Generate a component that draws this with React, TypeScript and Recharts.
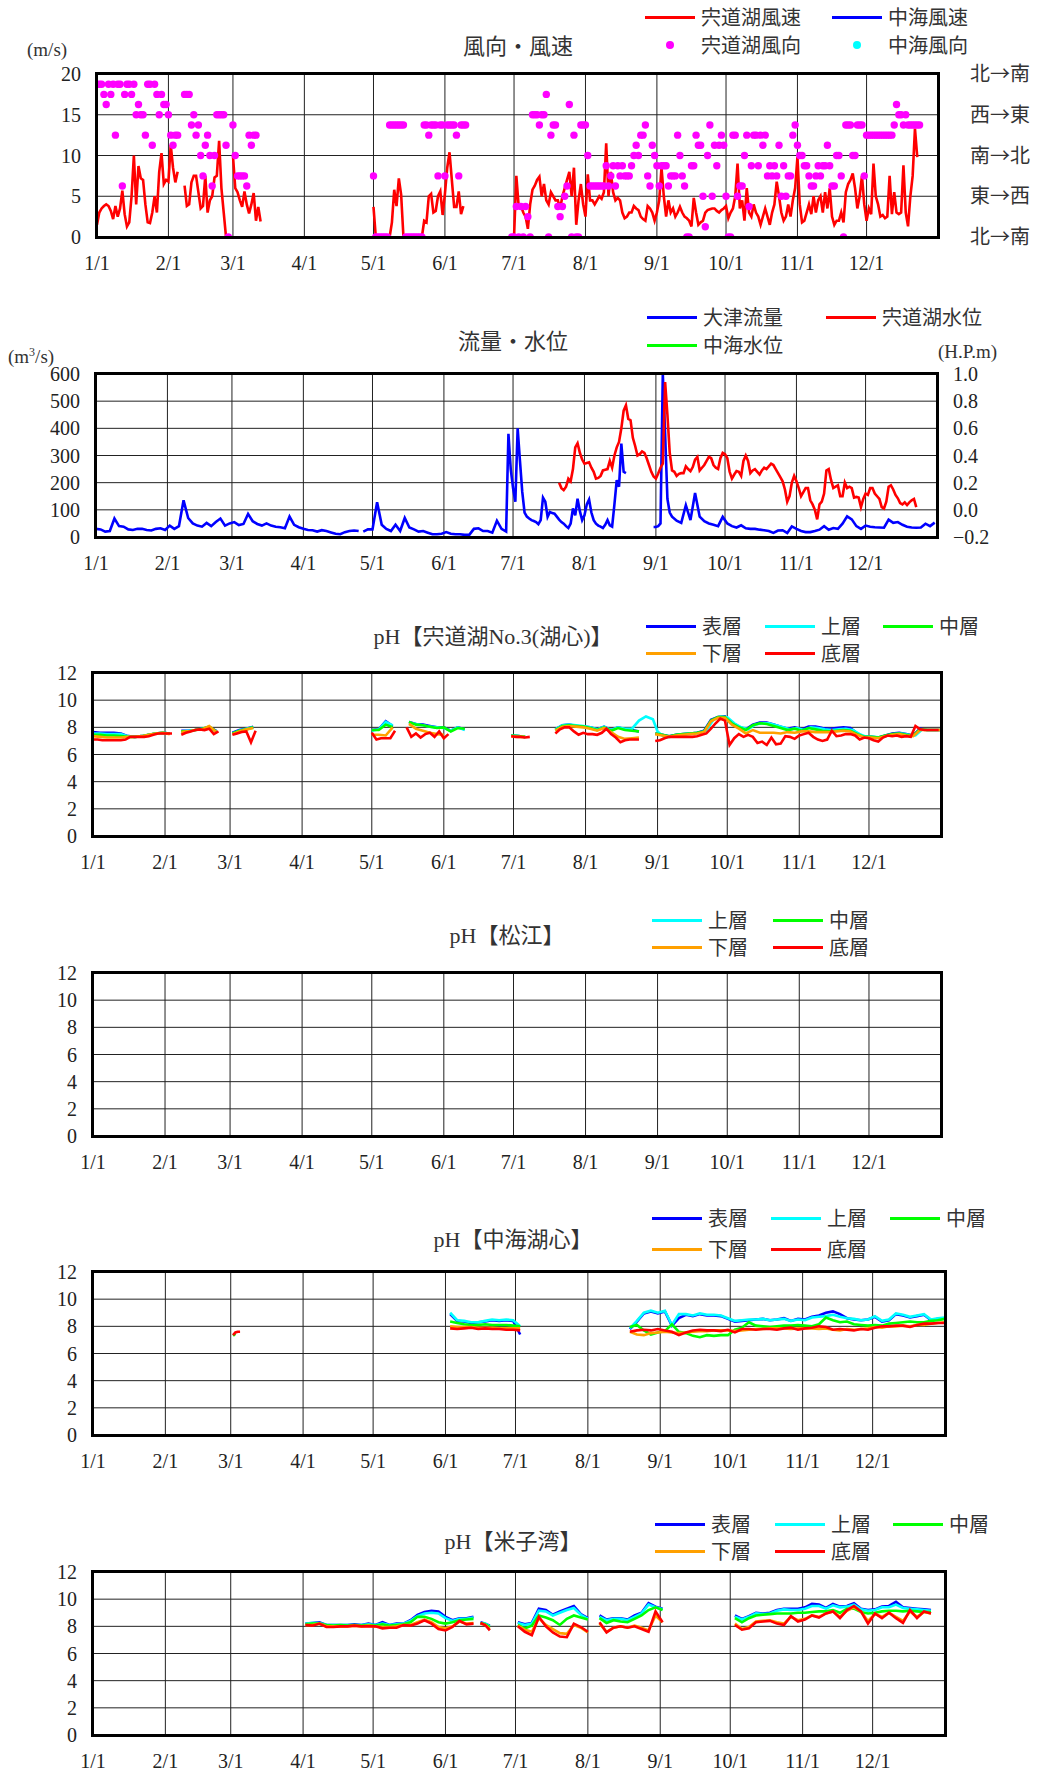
import React from 'react';
import { ComposedChart, Line, Scatter, XAxis, YAxis, CartesianGrid } from 'recharts';

// segment = [start day, step in days, values, join to previous segment]
type Seg = [number, number, number[], boolean?];
type Pt = { d: number; v: number | null };

const monthDays = [0, 31, 59, 90, 120, 151, 181, 212, 243, 273, 304, 334];
const monthLabels = ['1/1', '2/1', '3/1', '4/1', '5/1', '6/1', '7/1', '8/1', '9/1', '10/1', '11/1', '12/1'];
const dirLabels = ['北→南', '東→西', '南→北', '西→東', '北→南'];
const windTicks = [0, 5, 10, 15, 20];
const flowTicks = [0, 100, 200, 300, 400, 500, 600];
const levelTicks = [-0.2, 0, 0.2, 0.4, 0.6, 0.8, 1.0];
const phTicks = [0, 2, 4, 6, 8, 10, 12];

// ---- 風向・風速 ----
const windSpeedSegs: Seg[] = [
  [0, 1, [1.5, 3, 3.5, 3.8, 4, 3.8, 3.2, 2.2, 3.8, 2.5, 3.5, 5.7, 2.8, 1.3, 1.8, 5, 10, 4, 8.7, 7.2, 7, 4, 1.8, 1.7, 3, 5, 3, 8, 10.3, 6.5, 7, 6.8, 11.3, 8.5, 6.7, 8]],
  [38, 1, [6.3, 3.8, 4, 6.7, 7.5, 7.5, 5.5, 3.5, 3.8, 7.5, 3, 4.5, 5, 7.3, 7.5, 11.8, 6, 3, 0]],
  [59, 1, [10, 6, 5.5, 4.5, 3.7, 5.6, 4, 2.9, 4, 5.4, 2, 3.7, 1.9]],
  [120, 1, [3.7, 0, 0, 0, 0, 0, 0, 0, 1.8, 5.8, 3.8, 7.2, 5.2, 0, 0, 0, 0, 0, 0, 0, 0, 0, 2, 1.8, 5, 5.3, 3, 3.2, 5, 5.6, 2.7, 5.3, 8.5, 10.4, 7, 3.7, 3.7, 5.6, 2.8, 3.8]],
  [180, 1, [
    0, 0, 7.5, 3.8, 3.8, 3, 2.5, 1, 4, 5.8, 6.3, 7, 7.4, 5, 6.5, 4.5, 4, 5.5, 5, 4.5, 4.5, 3.5, 5, 6, 7, 8, 5, 8.5, 1.5, 4.5, 6.5, 4, 2.5,
    7.7, 4.5, 4.5, 4, 4.5, 5, 4.7, 5.5, 11.5, 5, 8, 5.5, 4.5, 4.8, 4.5, 3, 2.3, 2.5, 3, 3, 3.8, 3.5, 3.3, 2.5, 2.2, 2, 3.8, 3.5, 3, 2, 3,
    4.5, 8.5, 5, 2.5, 4.5, 3, 3.5, 2.5, 3, 3.7, 3, 2.5, 2.3, 2, 1.3, 4.8, 3, 1.5, 1.8, 2, 3, 3.3, 3.4, 3.5, 3.5, 3.2, 3, 3.3, 3.5, 3.8,
    2.3, 3, 3.5, 5, 9, 3.5, 4.5, 2, 6, 3, 2.5, 4, 3, 2.5, 1.5, 2.5, 3.5, 2.5, 1.5, 3, 4, 6.8, 5, 3, 2, 2.5, 4, 2.5, 4.5, 6, 9.8,
    4, 1.8, 2, 3, 4, 2.8, 5, 3, 4.5, 5, 3, 5.5, 3.5, 6, 2.5, 1.5, 2, 2, 3, 1.8, 5.5, 6.5, 7, 7.8, 6, 3.5, 5, 7.5, 4, 2,
    3.5, 2.8, 9, 5, 4, 2.5, 2.7, 2.3, 2.5, 7.5, 2.8, 5.5, 3, 2.8, 3, 8.8, 3, 1.3, 5, 7.5, 13.3, 9.8,
  ]],
];

const windDirSegs: Seg[] = [
  [0, 1, [18.75, 18.75, 18.75, 17.5, 16.25, 18.75, 17.5, 18.75, 12.5, 18.75, 18.75, 6.25, 17.5, 18.75, 18.75, 17.5, 18.75, 15, 16.25, 15, 15, 12.5, 18.75, 18.75, 11.25, 18.75, 17.5, 15, 17.5, 16.25, 16.25, 15, 12.5, 11.25, 12.5, 12.5]],
  [38, 1, [17.5, 17.5, 17.5, 13.75, 15, 12.5, 13.75, 10, 7.5, 11.25, 12.5, 10, 6.25, 10, 15, 15, 15, 15, 11.25, 0]],
  [59, 1, [13.75, 10, 7.5, 7.5, 7.5, 7.5, 6.25, 12.5, 11.25, 12.5, 12.5]],
  [120, 1, [7.5, 0, 0, 0, 0, 0, 0, 13.75, 13.75, 13.75, 13.75, 13.75, 13.75, 13.75, 0, 0, 0, 0, 0, 0, 0, 0, 13.75, 13.75, 12.5, 13.75, 13.75, 13.75, 7.5, 13.75, 13.75, 7.5, 13.75, 13.75, 13.75, 13.75, 12.5, 7.5, 13.75, 13.75, 13.75]],
  [180, 1, [
    0, 0, 3.75, 0, 3.75, 0, 3.75, 2.5, 0, 15,
    15, 15, 13.75, 15, 15, 17.5, 0, 12.5, 13.75, 13.75,
    3.75, 2.5, 3.75, 5, 6.25, 16.25, 0, 12.5, 0, 0,
    13.75, 13.75, 13.75, 10, 6.25, 6.25, 6.25, 6.25, 6.25, 6.25,
    6.25, 8.75, 6.25, 7.5, 8.75, 6.25, 8.75, 7.5, 8.75, 7.5,
    7.5, 7.5, 8.75, 10, 11.25, 10, 12.5, 12.5, 13.75, 7.5,
    6.25, 11.25, 10, 8.75, 6.25, 8.75, 8.75, 8.75, 6.25, 7.5,
    7.5, 7.5, 12.5, 10, 7.5, 6.25, 0, 0, 8.75, 8.75,
    12.5, 11.25, 11.25, 5, 1.25, 10, 13.75, 5, 11.25, 8.75,
    11.25, 12.5, 11.25, 5, 0, 0, 12.5, 12.5, 5, 6.25,
    6.25, 10, 12.5, 3.75, 8.75, 12.5, 12.5, 8.75, 12.5, 11.25,
    12.5, 7.5, 8.75, 7.5, 8.75, 7.5, 11.25, 5, 8.75, 5,
    7.5, 7.5, 12.5, 13.75, 11.25, 10, 10, 8.75, 8.75, 7.5,
    6.25, 6.25, 7.5, 8.75, 7.5, 8.75, 8.75, 11.25, 8.75, 6.25,
    6.25, 10, 10, 7.5, 0, 13.75, 13.75, 13.75, 10, 10,
    13.75, 13.75, 13.75, 7.5, 12.5, 12.5, 12.5, 12.5, 12.5, 12.5,
    12.5, 12.5, 12.5, 12.5, 12.5, 12.5, 13.75, 16.25, 15, 15,
    13.75, 15, 13.75, 13.75, 13.75, 13.75, 13.75, 13.75,
  ]],
];

// ---- 流量・水位 ----
const flowSegs: Seg[] = [
  [0, 2, [30, 28, 20, 22, 68, 40, 38, 28, 26, 30, 30, 26, 24, 30, 32, 26, 42, 30, 40, 135, 70, 50, 42, 38, 52, 40, 55, 68, 42, 50, 55, 44, 48, 85, 58, 48, 42, 50, 42, 38, 36, 32, 75, 45, 36, 30, 26, 25, 20, 25, 22, 17, 12, 10, 18, 22, 24, 22]],
  [116, 2, [20, 28, 28, 128, 45, 30, 22, 45, 22, 70, 35, 28, 20, 22, 16, 10, 10, 12, 18, 12, 10, 10, 8, 8, 30, 32, 22, 22, 16, 60, 30]],
  [178, 1, [20, 380, 250, 180, 130, 400, 280, 166, 90, 75, 68, 62, 59, 55, 47, 62, 145, 130, 74, 92, 88, 86, 75, 64, 55, 49, 40, 33, 49, 105, 80, 141, 95, 62, 80, 120, 138, 90, 62, 49, 42, 38, 33, 45, 62, 43, 38, 120, 209, 185, 344, 240, 235], true],
  [242, 1, [37, 37, 40, 50, 600, 380, 140, 90, 75]],
  [252, 2, [60, 52, 117, 62, 162, 75, 58, 50, 45, 40, 74, 50, 40, 35, 43, 32, 30, 30, 27, 25, 22, 15, 24, 25, 15, 39, 30, 22, 18, 18, 22, 27, 40, 27, 33, 30, 49, 76, 65, 40, 30, 42, 38, 36, 35, 34, 64, 52, 55, 45, 38, 35, 34, 35, 49, 40, 53], true],
];

const shinjiLevelSegs: Seg[] = [
  [201, 1, [
    0.2, 0.16, 0.145, 0.17, 0.23, 0.21, 0.3, 0.46, 0.49, 0.42,
    0.37, 0.34, 0.345, 0.35, 0.31, 0.28, 0.23, 0.235, 0.25, 0.29,
    0.295, 0.3, 0.36, 0.31, 0.4, 0.46, 0.5, 0.6, 0.73, 0.77,
    0.67, 0.66, 0.53, 0.47, 0.4, 0.41, 0.43, 0.42, 0.38, 0.33,
    0.28, 0.245, 0.23, 0.267, 0.31, 0.34, 0.94, 0.7, 0.42, 0.29,
    0.28, 0.25, 0.265, 0.27, 0.27, 0.32, 0.3, 0.285, 0.315, 0.37,
    0.39, 0.29, 0.31, 0.33, 0.36, 0.39, 0.38, 0.33, 0.31, 0.3,
    0.38, 0.42, 0.41, 0.38, 0.28, 0.23, 0.26, 0.285, 0.28, 0.25,
    0.36, 0.4, 0.36, 0.27, 0.29, 0.3, 0.28, 0.26, 0.29, 0.31,
    0.3, 0.32, 0.34, 0.33, 0.3, 0.27, 0.24, 0.21, 0.15, 0.06,
    0.1, 0.2, 0.25, 0.21, 0.16, 0.1, 0.13, 0.16, 0.16, 0.07,
    0.04, 0.0, -0.07, 0.04, 0.06, 0.12, 0.29, 0.3, 0.22, 0.16,
    0.17, 0.18, 0.1, 0.1, 0.2, 0.16, 0.17, 0.16, 0.09, 0.095,
    0.09, 0.02, 0.08, 0.12, 0.11, 0.16, 0.16, 0.12, 0.1, 0.08,
    0.02, 0.01, 0.06, 0.17, 0.18, 0.15, 0.11, 0.085, 0.05, 0.04,
    0.055, 0.035, 0.055, 0.07, 0.08, 0.02,
  ]],
];

// ---- pH 宍道湖No.3 ----
const p3Blue: Seg[] = [
  [0, 3, [7.65, 7.6, 7.6, 7.6, 7.55, 7.35, 7.3, 7.35, 7.45, 7.55, 7.6, 7.55]],
  [38, 3, [7.75, 7.75, 7.8, 7.9, 8.0, 7.75]],
  [60, 3, [7.6, 7.8, 7.9, 8.05]],
  [120, 3, [7.8, 7.85, 8.45, 8.1]],
  [136, 3, [8.4, 8.25, 8.2, 8.1, 8.0, 8.0, 7.75, 8.0, 7.85]],
  [180, 3, [7.4, 7.35, 7.3]],
  [199, 3, [7.85, 8.15, 8.2, 8.1, 8.05, 8.0, 7.85, 8.05, 7.8, 8.0, 7.85, 7.8, 7.7]],
  [242, 3, [7.55, 7.45, 7.35, 7.45, 7.5, 7.55, 7.6, 7.75, 8.55, 8.75, 8.8, 8.35, 8.05, 7.85, 8.2, 8.35, 8.35, 8.2, 8.05, 7.9, 8.0, 7.85, 8.05, 8.05, 7.95, 7.9, 7.95, 8.0, 7.95, 7.55, 7.3, 7.3, 7.25, 7.4, 7.55, 7.6, 7.5, 7.4, 7.9, 7.8, 7.8, 7.8]],
];
const p3Cyan: Seg[] = [
  [0, 3, [7.55, 7.55, 7.5, 7.5, 7.5, 7.35, 7.3, 7.35, 7.45, 7.55, 7.6, 7.55]],
  [38, 3, [7.7, 7.75, 7.8, 7.9, 8.0, 7.7]],
  [60, 3, [7.55, 7.75, 7.9, 8.0]],
  [120, 3, [7.75, 7.85, 8.4, 8.15]],
  [136, 3, [8.35, 8.25, 8.15, 8.05, 8.0, 7.95, 7.75, 8.0, 7.8]],
  [180, 3, [7.4, 7.35, 7.3]],
  [199, 3, [7.85, 8.15, 8.2, 8.15, 8.1, 8.0, 7.85, 8.05, 7.8, 8.0, 7.9, 7.9, 8.5, 8.8, 8.6]],
  [243, 3, [7.7, 7.25, 7.3, 7.45, 7.5, 7.55, 7.6, 7.75, 8.55, 8.8, 8.75, 8.3, 8.0, 7.85, 8.2, 8.3, 8.3, 8.15, 8.0, 7.85, 7.95, 7.8, 8.0, 7.95, 7.85, 7.8, 7.85, 7.9, 7.8, 7.5, 7.3, 7.3, 7.25, 7.4, 7.5, 7.55, 7.45, 7.4, 7.85, 7.8, 7.8], true],
];
const p3Green: Seg[] = [
  [0, 3, [7.45, 7.45, 7.4, 7.4, 7.35, 7.3, 7.3, 7.35, 7.45, 7.55, 7.6, 7.55]],
  [38, 3, [7.7, 7.7, 7.8, 7.9, 8.05, 7.7]],
  [60, 3, [7.55, 7.75, 7.85, 8.0]],
  [120, 3, [7.8, 7.8, 8.2, 8.0]],
  [136, 3, [8.4, 8.2, 8.15, 8.05, 7.95, 8.0, 7.7, 7.95, 7.9]],
  [180, 3, [7.4, 7.35, 7.3]],
  [199, 3, [7.8, 8.1, 8.15, 8.1, 8.05, 7.95, 7.8, 8.0, 7.75, 7.95, 7.8, 7.75, 7.7]],
  [242, 3, [7.55, 7.45, 7.35, 7.45, 7.5, 7.55, 7.6, 7.7, 8.5, 8.75, 8.75, 8.3, 8.0, 7.8, 8.15, 8.3, 8.25, 8.1, 7.95, 7.8, 7.9, 7.75, 7.95, 7.85, 7.75, 7.7, 7.75, 7.8, 7.75, 7.5, 7.3, 7.3, 7.25, 7.4, 7.5, 7.55, 7.45, 7.4, 7.85, 7.8, 7.8, 7.8]],
];
const p3Orange: Seg[] = [
  [0, 3, [7.35, 7.3, 7.25, 7.25, 7.25, 7.3, 7.3, 7.35, 7.45, 7.55, 7.6, 7.5]],
  [38, 3, [7.65, 7.7, 7.8, 7.85, 8.1, 7.65]],
  [60, 3, [7.5, 7.7, 7.85, 7.95]],
  [120, 3, [7.45, 7.45, 7.4, 8.0]],
  [136, 3, [8.25, 7.9, 7.75, 7.6, 7.5, 7.45]],
  [180, 3, [7.35, 7.3, 7.3]],
  [199, 3, [7.75, 8.05, 8.1, 8.05, 8.0, 7.9, 7.75, 7.95, 7.65, 7.3, 7.15, 7.2, 7.25]],
  [242, 3, [7.5, 7.4, 7.3, 7.4, 7.45, 7.5, 7.55, 7.65, 8.45, 8.7, 8.7, 8.2, 7.9, 7.55, 7.8, 7.6, 7.6, 7.6, 7.55, 7.65, 7.6, 7.7, 7.7, 7.65, 7.65, 7.65, 7.7, 7.75, 7.7, 7.45, 7.25, 7.25, 7.2, 7.35, 7.45, 7.5, 7.4, 7.35, 7.8, 7.8, 7.8, 7.8]],
];
const p3Red: Seg[] = [
  [0, 2, [7.1, 7.1, 7.05, 7.05, 7.05, 7.05, 7.05, 7.1, 7.3, 7.3, 7.3, 7.3, 7.35, 7.45, 7.55, 7.55, 7.55, 7.55]],
  [38, 2, [7.45, 7.6, 7.7, 7.8, 7.85, 7.8, 7.9, 7.5, 7.7]],
  [60, 2, [7.45, 7.55, 7.65, 7.7, 6.9, 7.75]],
  [120, 2, [7.6, 7.1, 7.2, 7.2, 7.2, 7.75]],
  [135, 2, [8.0, 7.3, 7.55, 7.25, 7.5, 7.6, 7.3, 7.7, 7.2, 7.5]],
  [180, 2, [7.35, 7.3, 7.3, 7.25, 7.3]],
  [199, 2, [7.55, 7.85, 8.0, 8.0, 7.7, 7.45, 7.6, 7.5, 7.5, 7.45, 7.6, 7.9, 7.5, 7.25, 6.9, 7.05, 7.1, 7.1, 7.1]],
  [242, 2, [
    7.0, 7.05, 7.2, 7.3, 7.3, 7.3, 7.3, 7.3, 7.3, 7.35,
    7.45, 7.55, 7.9, 8.3, 8.65, 8.5, 6.7, 7.2, 7.5, 7.3,
    7.45, 7.3, 6.85, 6.95, 6.7, 7.25, 6.75, 6.8, 7.35, 7.3,
    7.15, 7.4, 7.5, 7.6, 7.3, 7.1, 7.0, 7.1, 7.75, 7.35,
    7.4, 7.5, 7.5, 7.4, 7.1, 7.25, 7.2, 7.05, 6.95, 7.25,
    7.4, 7.35, 7.4, 7.3, 7.35, 7.3, 8.1, 7.85, 7.8, 7.8,
    7.8, 7.8,
  ]],
];

// ---- pH 中海湖心 ----
const p5Blue: Seg[] = [
  [153, 3, [8.9, 8.4, 8.35, 8.25, 8.3, 8.35, 8.45, 8.4, 8.45, 8.4, 7.4]],
  [230, 3, [7.8, 8.35, 8.95, 9.1, 8.95, 9.1, 8.05, 8.6, 8.85, 8.75, 8.9, 8.8, 8.8, 8.75, 8.55, 8.35, 8.4, 8.45, 8.5, 8.55, 8.45, 8.5, 8.6, 8.4, 8.55, 8.5, 8.7, 8.8, 9.0, 9.1, 8.9, 8.6, 8.5, 8.45, 8.5, 8.7, 8.35, 8.45, 8.9, 8.8, 8.65, 8.75, 8.85, 8.45, 8.55, 8.6]],
];
const p5Cyan: Seg[] = [
  [153, 3, [9.0, 8.45, 8.4, 8.3, 8.3, 8.4, 8.5, 8.45, 8.5, 8.45, 8.0]],
  [230, 3, [7.85, 8.4, 9.0, 9.15, 9.0, 9.15, 8.1, 8.9, 8.9, 8.8, 8.95, 8.85, 8.85, 8.8, 8.6, 8.4, 8.45, 8.5, 8.5, 8.55, 8.45, 8.5, 8.55, 8.4, 8.5, 8.45, 8.65, 8.7, 8.75, 8.85, 8.7, 8.6, 8.55, 8.45, 8.5, 8.75, 8.4, 8.5, 8.95, 8.85, 8.7, 8.8, 8.9, 8.5, 8.6, 8.65]],
];
const p5Green: Seg[] = [
  [60, 1, [7.3, 7.45]],
  [153, 3, [8.35, 8.25, 8.15, 8.1, 8.1, 8.15, 8.1, 8.1, 8.1, 8.05, 8.0]],
  [230, 3, [7.95, 8.1, 7.7, 7.4, 7.55, 7.65, 8.15, 7.6, 7.5, 7.3, 7.2, 7.35, 7.3, 7.35, 7.35, 7.75, 7.9, 8.3, 8.05, 8.0, 7.95, 8.0, 8.05, 8.05, 8.1, 8.05, 8.0, 8.15, 8.65, 8.45, 8.3, 8.35, 8.15, 8.1, 8.05, 8.1, 8.05, 8.2, 8.25, 8.3, 8.35, 8.3, 8.3, 8.4, 8.45, 8.55]],
];
const p5Orange: Seg[] = [
  [153, 3, [8.0, 7.95, 7.95, 7.95, 7.9, 7.9, 7.9, 7.85, 7.85, 7.85, 7.85]],
  [230, 3, [7.6, 7.4, 7.35, 7.5, 7.55, 7.6, 7.55, 7.5, 7.55, 7.6, 7.65, 7.65, 7.7, 7.7, 7.7, 7.65, 7.7, 7.75, 7.8, 7.8, 7.85, 7.85, 7.85, 7.8, 7.85, 7.85, 7.85, 7.8, 7.85, 7.75, 7.7, 7.8, 7.75, 7.8, 7.85, 7.95, 7.9, 8.0, 8.0, 8.05, 8.0, 8.1, 8.1, 8.2, 8.25, 8.3]],
];
const p5Red: Seg[] = [
  [60, 1, [7.35, 7.55, 7.6, 7.6]],
  [153, 3, [7.85, 7.8, 7.85, 7.9, 7.8, 7.85, 7.8, 7.8, 7.75, 7.75, 7.7]],
  [230, 3, [7.6, 7.7, 7.75, 7.7, 7.8, 7.7, 7.6, 7.35, 7.55, 7.7, 7.75, 7.7, 7.7, 7.65, 7.75, 7.55, 7.8, 7.8, 7.75, 7.8, 7.8, 7.75, 7.85, 7.9, 7.75, 7.85, 7.9, 8.0, 7.95, 7.75, 7.8, 7.75, 7.7, 7.8, 7.75, 7.9, 8.0, 8.0, 8.05, 8.05, 7.95, 8.1, 8.2, 8.2, 8.25, 8.25]],
];

// ---- pH 米子湾 ----
const p6Blue: Seg[] = [
  [91, 3, [8.2, 8.25, 8.3, 8.1, 8.1, 8.1, 8.1, 8.15, 8.1, 8.2, 8.1, 8.3, 8.1, 8.2, 8.2, 8.45, 8.85, 9.05, 9.15, 9.1, 8.7, 8.45, 8.6, 8.6, 8.7]],
  [166, 2, [8.3, 8.2, 8.05]],
  [182, 3, [8.3, 8.15, 8.25, 9.3, 9.2, 8.85, 9.1, 9.3, 9.5, 8.9, 8.6]],
  [217, 3, [8.8, 8.5, 8.6, 8.6, 8.5, 8.8, 9.0, 9.7, 9.45, 9.3]],
  [275, 3, [8.8, 8.55, 8.75, 9.0, 8.95, 9.0, 9.2, 9.3, 9.3, 9.3, 9.4, 9.65, 9.6, 9.35, 9.65, 9.45, 9.5, 9.7, 9.3, 9.2, 9.25, 9.45, 9.5, 9.8, 9.4, 9.35, 9.3, 9.25, 9.2]],
];
const p6Cyan: Seg[] = [
  [91, 3, [8.2, 8.25, 8.25, 8.1, 8.1, 8.1, 8.1, 8.1, 8.1, 8.15, 8.1, 8.2, 8.1, 8.15, 8.2, 8.4, 8.75, 8.95, 9.0, 8.95, 8.6, 8.4, 8.55, 8.55, 8.65]],
  [166, 2, [8.25, 8.2, 8.0]],
  [182, 3, [8.25, 8.1, 8.2, 9.15, 9.1, 8.8, 9.0, 9.2, 9.35, 8.85, 8.55]],
  [217, 3, [8.7, 8.45, 8.55, 8.55, 8.45, 8.7, 8.95, 9.6, 9.4, 9.25]],
  [275, 3, [8.7, 8.5, 8.7, 8.95, 8.9, 8.95, 9.15, 9.25, 9.2, 9.2, 9.3, 9.5, 9.5, 9.3, 9.55, 9.4, 9.45, 9.6, 9.25, 9.15, 9.2, 9.4, 9.4, 9.6, 9.35, 9.3, 9.25, 9.2, 9.15]],
];
const p6Green: Seg[] = [
  [91, 3, [8.15, 8.2, 8.2, 8.1, 8.05, 8.1, 8.05, 8.1, 8.05, 8.1, 8.05, 8.15, 8.05, 8.1, 8.15, 8.3, 8.7, 8.7, 8.55, 8.3, 8.2, 8.3, 8.45, 8.5, 8.55]],
  [166, 2, [8.25, 8.15, 7.95]],
  [182, 3, [8.1, 7.85, 8.05, 8.8, 8.65, 8.45, 8.1, 8.55, 8.8, 8.65, 8.5]],
  [217, 3, [8.6, 8.25, 8.45, 8.35, 8.3, 8.55, 8.8, 9.2, 9.4, 9.2]],
  [275, 3, [8.6, 8.3, 8.6, 8.8, 8.85, 8.9, 8.95, 8.95, 8.95, 9.0, 9.0, 9.05, 9.1, 9.1, 9.2, 9.0, 9.3, 9.3, 9.05, 8.95, 9.0, 9.1, 9.15, 9.15, 9.1, 9.15, 9.1, 9.05, 9.05]],
];
const p6Orange: Seg[] = [
  [91, 3, [8.1, 8.1, 8.2, 8.0, 8.0, 8.0, 8.0, 8.05, 8.0, 8.05, 8.0, 7.95, 7.95, 8.0, 8.1, 8.1, 8.3, 8.5, 8.3, 7.95, 7.85, 8.0, 8.35, 8.2, 8.25]],
  [166, 2, [8.2, 8.1, 7.8]],
  [182, 3, [8.05, 7.75, 7.6, 8.6, 8.1, 7.8, 7.5, 7.45, 8.1, 7.9, 7.55]],
  [217, 3, [8.2, 7.6, 7.9, 8.0, 7.9, 8.05, 7.9, 7.7, 8.8, 8.3]],
  [275, 3, [8.2, 7.8, 7.95, 8.35, 8.4, 8.45, 8.3, 8.2, 8.7, 8.45, 8.55, 8.8, 8.7, 8.95, 9.1, 8.7, 9.15, 9.4, 9.1, 8.4, 8.9, 8.7, 9.0, 8.7, 8.4, 9.1, 8.7, 9.05, 8.95]],
];
const p6Red: Seg[] = [
  [91, 3, [8.1, 8.05, 8.2, 7.95, 7.95, 8.0, 8.0, 8.05, 8.0, 8.0, 8.0, 7.85, 7.9, 7.9, 8.1, 8.05, 8.2, 8.45, 8.2, 7.8, 7.7, 7.95, 8.4, 8.15, 8.2]],
  [166, 2, [8.25, 8.1, 7.7]],
  [182, 3, [8.0, 7.6, 7.35, 8.7, 8.0, 7.55, 7.25, 7.2, 8.2, 7.95, 7.6]],
  [217, 3, [8.3, 7.55, 7.9, 8.0, 7.9, 8.0, 7.8, 7.6, 9.1, 8.3]],
  [275, 3, [8.1, 7.75, 7.85, 8.3, 8.35, 8.4, 8.2, 8.1, 8.75, 8.35, 8.5, 8.8, 8.65, 8.95, 9.1, 8.6, 9.2, 9.5, 9.1, 8.2, 8.95, 8.6, 9.0, 8.6, 8.25, 9.2, 8.6, 9.1, 8.95]],
];

function build(segs: Seg[]): Pt[] {
  const out: Pt[] = [];
  segs.forEach(([start, step, vals, join], i) => {
    if (i > 0 && !join) out.push({ d: start - 0.5, v: null });
    vals.forEach((v, j) => out.push({ d: start + j * step, v }));
  });
  return out;
}

const C = { blue: '#0000ff', cyan: '#00ffff', green: '#00ff00', orange: '#ffa000', red: '#ff0000', mag: '#ff00ff' };
const CJK = "'Noto Sans CJK JP', sans-serif";
const SERIF = "'Liberation Serif', 'Noto Sans CJK JP', serif";
const H = 163;
const TOPM = 20;
const tickFont = { fontFamily: SERIF, fontSize: 20, fill: '#222' };

const ln = (segs: Seg[], color: string, key: string, yAxisId: string | number = 0) => (
  <Line key={key} data={build(segs)} dataKey="v" yAxisId={yAxisId} type="linear" stroke={color} strokeWidth={2.6}
    dot={false} activeDot={false} connectNulls={false} isAnimationActive={false} />
);
const empty: Pt[] = [{ d: 0, v: null }, { d: 365, v: null }];

// direction labels on the right of the wind chart, in the CJK font
const DirTick = (props: any) => (
  <text x={props.x} y={props.y} dy="0.35em" textAnchor="start" fill="#333" style={{ fontFamily: CJK, fontSize: 20 }}>
    {dirLabels[Math.round(props.payload.value / 5)]}
  </text>
);

interface RightAxis { domain: [number, number]; ticks: number[]; fmt?: (v: number) => string; margin: number; tick: any }

function Panel(p: { top: number; left: number; right: number; yDomain: [number, number]; yTicks: number[]; rightAxis?: RightAxis; children?: React.ReactNode }) {
  const marginRight = p.rightAxis ? 0 : 1040 - p.right;
  return (
    <div style={{ position: 'absolute', left: 0, top: p.top - TOPM }}>
      <ComposedChart width={1040} height={TOPM + H + 45} margin={{ top: TOPM, left: 0, right: marginRight, bottom: 0 }}>
        <CartesianGrid stroke="#222" strokeWidth={1} />
        <XAxis type="number" dataKey="d" domain={[0, 365]} ticks={monthDays} interval={0} allowDataOverflow
          tickFormatter={(v: number) => monthLabels[monthDays.indexOf(v)]} height={45} axisLine={false}
          tickLine={false} tickSize={0} tickMargin={19} tick={tickFont} />
        <YAxis type="number" domain={p.yDomain} ticks={p.yTicks} interval={0} allowDataOverflow width={p.left}
          axisLine={false} tickLine={false} tickSize={0} tickMargin={16} tick={tickFont} />
        {p.rightAxis && (
          <YAxis yAxisId="r" orientation="right" type="number" domain={p.rightAxis.domain} ticks={p.rightAxis.ticks}
            interval={0} allowDataOverflow width={1040 - p.right} axisLine={false} tickLine={false} tickSize={0}
            tickMargin={p.rightAxis.margin} tick={p.rightAxis.tick} tickFormatter={p.rightAxis.fmt} />
        )}
        {p.children}
      </ComposedChart>
      <div style={{ position: 'absolute', left: p.left - 2, top: TOPM - 2, width: p.right - p.left + 4, height: H + 4, border: '3px solid #000', boxSizing: 'border-box', pointerEvents: 'none' }} />
    </div>
  );
}

type LegItem = { label: string; color: string; x: number; y: number; dot?: boolean };
function Legend({ items }: { items: LegItem[] }) {
  return (
    <>
      {items.map((it, i) => (
        <React.Fragment key={i}>
          {it.dot
            ? <div style={{ position: 'absolute', left: it.x + 21, top: it.y - 4, width: 8, height: 8, borderRadius: 4, background: it.color }} />
            : <div style={{ position: 'absolute', left: it.x, top: it.y - 1.5, width: 50, height: 3, background: it.color }} />}
          <div style={{ position: 'absolute', left: it.x + 56, top: it.y - 11, fontFamily: CJK, fontSize: 20, lineHeight: '22px', color: '#333', whiteSpace: 'nowrap' }}>{it.label}</div>
        </React.Fragment>
      ))}
    </>
  );
}

function Title({ x, y, text }: { x: number; y: number; text: string }) {
  return <div style={{ position: 'absolute', left: x - 250, width: 500, top: y - 13, lineHeight: '26px', textAlign: 'center', fontFamily: SERIF, fontSize: 22, color: '#333', whiteSpace: 'nowrap' }}>{text}</div>;
}

function Note({ x, y, children }: { x: number; y: number; children: React.ReactNode }) {
  return <div style={{ position: 'absolute', left: x, top: y - 12, lineHeight: '24px', fontFamily: SERIF, fontSize: 19, color: '#333', whiteSpace: 'nowrap' }}>{children}</div>;
}

const layerLegend = (y1: number, y2: number, x0: number, x1: number, x2: number): LegItem[] => [
  { label: '表層', color: C.blue, x: x0, y: y1 },
  { label: '上層', color: C.cyan, x: x1, y: y1 },
  { label: '中層', color: C.green, x: x2, y: y1 },
  { label: '下層', color: C.orange, x: x0, y: y2 },
  { label: '底層', color: C.red, x: x1, y: y2 },
];

const dirPts = build(windDirSegs).filter((pt) => pt.v !== null);
const dotShape = (props: any) => <circle cx={props.cx} cy={props.cy} r={3.7} fill={C.mag} />;

const css = `.recharts-cartesian-axis-tick-value { font-family: 'Liberation Serif', 'Noto Sans CJK JP', serif; }`;

export default function App() {
  return (
    <div style={{ position: 'absolute', left: 0, top: 0, width: 1040, height: 1776, background: '#fff', overflow: 'hidden' }}>
      <style>{css}</style>
      {/* 風向・風速 */}
      <Title x={518} y={47} text="風向・風速" />
      <Note x={27} y={50}>(m/s)</Note>
      <Legend items={[
        { label: '宍道湖風速', color: C.red, x: 645, y: 17 },
        { label: '中海風速', color: C.blue, x: 832, y: 17 },
        { label: '宍道湖風向', color: C.mag, x: 645, y: 45, dot: true },
        { label: '中海風向', color: C.cyan, x: 832, y: 45, dot: true },
      ]} />
      <Panel top={74} left={97} right={938} yDomain={[0, 20]} yTicks={windTicks}
        rightAxis={{ domain: [0, 20], ticks: windTicks, margin: 32, tick: DirTick }}>
        {ln(windSpeedSegs, C.red, 'ws')}
        <Scatter key="wd" yAxisId="r" data={dirPts} dataKey="v" shape={dotShape} isAnimationActive={false} />
      </Panel>

      {/* 流量・水位 */}
      <Title x={513} y={342} text="流量・水位" />
      <Note x={8} y={352}>(m<sup style={{ fontSize: 12 }}>3</sup>/s)</Note>
      <Note x={938} y={352}>(H.P.m)</Note>
      <Legend items={[
        { label: '大津流量', color: C.blue, x: 647, y: 317 },
        { label: '宍道湖水位', color: C.red, x: 826, y: 317 },
        { label: '中海水位', color: C.green, x: 647, y: 345 },
      ]} />
      <Panel top={374} left={96} right={937} yDomain={[0, 600]} yTicks={flowTicks}
        rightAxis={{ domain: [-0.2, 1.0], ticks: levelTicks, fmt: (v) => v.toFixed(1).replace('-', '−'), margin: 16, tick: tickFont }}>
        {ln(flowSegs, C.blue, 'flow')}
        {ln(shinjiLevelSegs, C.red, 'lvl', 'r')}
      </Panel>

      {/* pH 宍道湖No.3 */}
      <Title x={493} y={637} text="pH【宍道湖No.3(湖心)】" />
      <Legend items={layerLegend(626, 653, 646, 765, 883)} />
      <Panel top={673} left={93} right={941} yDomain={[0, 12]} yTicks={phTicks}>
        {ln(p3Blue, C.blue, 'b')}
        {ln(p3Cyan, C.cyan, 'c')}
        {ln(p3Green, C.green, 'g')}
        {ln(p3Orange, C.orange, 'o')}
        {ln(p3Red, C.red, 'r')}
      </Panel>

      {/* pH 松江 */}
      <Title x={507} y={936} text="pH【松江】" />
      <Legend items={[
        { label: '上層', color: C.cyan, x: 652, y: 920 },
        { label: '中層', color: C.green, x: 773, y: 920 },
        { label: '下層', color: C.orange, x: 652, y: 947 },
        { label: '底層', color: C.red, x: 773, y: 947 },
      ]} />
      <Panel top={973} left={93} right={941} yDomain={[0, 12]} yTicks={phTicks}>
        <Line key="none" data={empty} dataKey="v" stroke="none" dot={false} isAnimationActive={false} />
      </Panel>

      {/* pH 中海湖心 */}
      <Title x={513} y={1240} text="pH【中海湖心】" />
      <Legend items={layerLegend(1218, 1249, 652, 771, 890)} />
      <Panel top={1272} left={93} right={945} yDomain={[0, 12]} yTicks={phTicks}>
        {ln(p5Blue, C.blue, 'b')}
        {ln(p5Cyan, C.cyan, 'c')}
        {ln(p5Green, C.green, 'g')}
        {ln(p5Orange, C.orange, 'o')}
        {ln(p5Red, C.red, 'r')}
      </Panel>

      {/* pH 米子湾 */}
      <Title x={513} y={1542} text="pH【米子湾】" />
      <Legend items={layerLegend(1524, 1551, 655, 775, 893)} />
      <Panel top={1572} left={93} right={945} yDomain={[0, 12]} yTicks={phTicks}>
        {ln(p6Blue, C.blue, 'b')}
        {ln(p6Cyan, C.cyan, 'c')}
        {ln(p6Green, C.green, 'g')}
        {ln(p6Orange, C.orange, 'o')}
        {ln(p6Red, C.red, 'r')}
      </Panel>
    </div>
  );
}
